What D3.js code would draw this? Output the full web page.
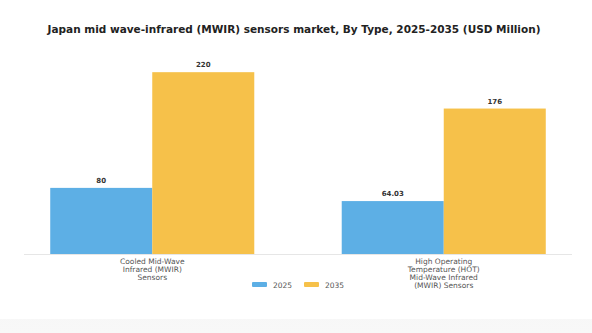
<!DOCTYPE html>
<html><head><meta charset="utf-8">
<script src="https://cdn.jsdelivr.net/npm/d3@7"></script>
<style>
html,body{margin:0;padding:0;background:#fff;}
svg{display:block;font-family:"DejaVu Sans",sans-serif;}
</style></head>
<body>
<svg id="chart" width="592" height="333"></svg>
<script>
const title = "Japan mid wave-infrared (MWIR) sensors market, By Type, 2025-2035 (USD Million)";
const categories = [
  ["Cooled Mid-Wave", "Infrared (MWIR)", "Sensors"],
  ["High Operating", "Temperature (HOT)", "Mid-Wave Infrared", "(MWIR) Sensors"]
];
const seriesNames = ["2025", "2035"];
const values2025 = [80, 64.03];
const values2035 = [220, 176];
const valueLabels2025 = ["80", "64.03"];
const valueLabels2035 = ["220", "176"];
const colors = ["#5DAFE5", "#F6C14A"];

const svg = d3.select("#chart");
const W = 592, H = 333;

const defs = svg.append("defs");
const g1 = defs.append("linearGradient").attr("id","shadow").attr("x1",0).attr("y1",0).attr("x2",0).attr("y2",1);
g1.append("stop").attr("offset","0%").attr("stop-color","#e9e9e9");
g1.append("stop").attr("offset","100%").attr("stop-color","#f8f8f8");
svg.append("rect").attr("x",0).attr("y",0).attr("width",W).attr("height",H).attr("fill","url(#shadow)");
svg.append("rect").attr("x",-10).attr("y",-20).attr("width",W+20).attr("height",339).attr("rx",10).attr("fill","#fff");

svg.append("text").attr("x",294).attr("y",33).attr("text-anchor","middle")
  .attr("font-size",10.5).attr("font-weight","bold").attr("fill","#222").text(title);

const idx = categories.map((c,i)=>i);
const x0 = d3.scaleBand().domain(idx).range([24,572]).paddingInner(0.3).paddingOuter(0.09);
const x1 = d3.scaleBand().domain(seriesNames).range([0,x0.bandwidth()]);
const y = d3.scaleLinear().domain([0,242]).range([254,54]);

const data = idx.map(i=>[
  {s:"2025", v:values2025[i], l:valueLabels2025[i]},
  {s:"2035", v:values2035[i], l:valueLabels2035[i]}
]);

svg.append("line").attr("x1",24).attr("x2",572).attr("y1",y(0)+0.5).attr("y2",y(0)+0.5)
  .attr("stroke","#e6e6e6").attr("stroke-width",1);

const groups = svg.selectAll("g.grp").data(data).join("g")
  .attr("transform",(d,i)=>`translate(${x0(i)},0)`);
groups.selectAll("rect").data(d=>d).join("rect")
  .attr("x",d=>x1(d.s)).attr("width",x1.bandwidth())
  .attr("y",d=>y(d.v)).attr("height",d=>y(0)-y(d.v))
  .attr("fill",(d,j)=>colors[j]);
groups.selectAll("text.val").data(d=>d).join("text").attr("class","val")
  .attr("x",d=>x1(d.s)+x1.bandwidth()/2).attr("y",d=>y(d.v)-5)
  .attr("text-anchor","middle").attr("font-size",7).attr("font-weight","bold").attr("fill","#333")
  .text(d=>d.l);

const cat = svg.selectAll("text.cat").data(categories).join("text").attr("class","cat")
  .attr("text-anchor","middle").attr("font-size",7.5).attr("fill","#555");
cat.each(function(lines,i){
  const t = d3.select(this);
  lines.forEach((ln,k)=>{
    t.append("tspan").attr("x",x0(i)+x0.bandwidth()/2).attr("y",264+k*7.9).text(ln);
  });
});

const leg = [{n:"2025",x:252},{n:"2035",x:304}];
leg.forEach((d,i)=>{
  svg.append("rect").attr("x",d.x).attr("y",282).attr("width",15).attr("height",5).attr("rx",1).attr("fill",colors[i]);
  svg.append("text").attr("x",d.x+21).attr("y",287.5).attr("font-size",7.5).attr("fill","#555").text(d.n);
});
</script>
</body></html>
